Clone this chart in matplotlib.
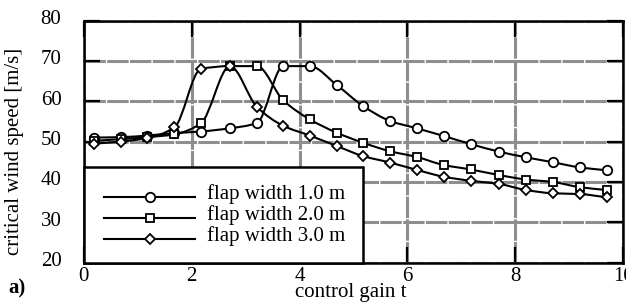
import numpy as np
import matplotlib
matplotlib.use('Agg')
import matplotlib.pyplot as plt
import matplotlib.transforms as mtrans
from matplotlib.path import Path
from matplotlib.patches import PathPatch, Rectangle

# values
gain = [0.19, 0.69, 1.18, 1.68, 2.17, 2.71, 3.21, 3.70, 4.19, 4.69,
        5.18, 5.68, 6.17, 6.67, 7.17, 7.70, 8.20, 8.69, 9.20, 9.69]
speed_w10 = [51.0, 51.1, 51.5, 52.1, 52.5, 53.3, 54.6, 68.7, 68.7, 64.0,
             58.8, 55.1, 53.3, 51.4, 49.4, 47.5, 46.1, 44.9, 43.6, 42.9]
speed_w20 = [50.2, 50.6, 51.1, 51.8, 54.5, 68.7, 68.7, 60.2, 55.5, 52.2,
             49.7, 47.6, 46.2, 44.2, 43.1, 41.7, 40.6, 40.0, 38.7, 38.0]
speed_w30 = [49.5, 50.0, 50.9, 53.5, 68.0, 68.7, 58.6, 53.9, 51.5, 48.9,
             46.4, 44.8, 43.0, 41.3, 40.3, 39.5, 38.0, 37.2, 37.0, 36.2]
labels = ['flap width 1.0 m', 'flap width 2.0 m', 'flap width 3.0 m']
markers = ['o', 's', 'D']
msizes = [6.8, 6.3, 5]

plt.rcParams['font.family'] = ['Liberation Serif', 'DejaVu Serif']


def smooth_path(x, y):
    "monotone cubic through the points, as bezier segments"
    x = np.asarray(x, float)
    y = np.asarray(y, float)
    h = np.diff(x)
    d = np.diff(y) / h
    m = np.zeros_like(y)
    for k in range(1, len(x) - 1):
        if d[k - 1] * d[k] > 0:
            w1 = 2 * h[k] + h[k - 1]
            w2 = h[k] + 2 * h[k - 1]
            m[k] = (w1 + w2) / (w1 / d[k - 1] + w2 / d[k])
    m[0] = d[0]
    m[-1] = d[-1]
    verts = [(x[0], y[0])]
    codes = [Path.MOVETO]
    for k in range(len(x) - 1):
        verts += [(x[k] + h[k] / 3, y[k] + m[k] * h[k] / 3),
                  (x[k + 1] - h[k] / 3, y[k + 1] - m[k + 1] * h[k] / 3),
                  (x[k + 1], y[k + 1])]
        codes += [Path.CURVE4] * 3
    return Path(verts, codes)


fig = plt.figure(figsize=(6.26, 3.02), dpi=100)
ax = fig.add_axes([83.7 / 626, 1 - 262.7 / 302, 539.6 / 626, 242.2 / 302])

for i, (ys, mk, ms) in enumerate(zip([speed_w10, speed_w20, speed_w30], markers, msizes)):
    ax.add_patch(PathPatch(smooth_path(gain, ys), fill=False, edgecolor='black',
                           lw=1.5, zorder=3 + 2 * i))
    ax.plot(gain, ys, ls='none', marker=mk, ms=ms, mfc='white', mec='black',
            mew=1.3, zorder=4 + 2 * i)

ax.set_xlim(0, 10)
ax.set_ylim(20, 80)
ax.set_xticks([0, 2, 4, 6, 8, 10])
ax.set_yticks([20, 30, 40, 50, 60, 70, 80])
ax.grid(True, color='#8e8e8e', lw=2.2, ls=(0, (7, 0.45)))
ax.tick_params(direction='in', length=11.5, width=1.6, top=True, right=True,
               labelsize=15, color='black')
ax.tick_params(axis='x', pad=3)
ax.tick_params(axis='y', pad=16)
for s in ax.spines.values():
    s.set_linewidth(1.8)

# y tick labels sit a little above their ticks
up = mtrans.ScaledTranslation(0, 2.5 / 72, fig.dpi_scale_trans)
for lab in ax.get_yticklabels():
    lab.set_transform(lab.get_transform() + up)

"legend box"
ax.add_patch(Rectangle((0, 0), 0.5176, 0.394, transform=ax.transAxes,
                       facecolor='white', edgecolor='black', lw=1.8,
                       zorder=20, clip_on=False))
for lab, mk, ms, yy in zip(labels, markers, msizes, [0.270, 0.183, 0.097]):
    ax.plot([0.0376, 0.2063], [yy, yy], transform=ax.transAxes, color='black',
            lw=1.5, zorder=21, clip_on=False)
    ax.plot([0.1229], [yy], transform=ax.transAxes, marker=mk, ms=ms,
            mfc='white', mec='black', mew=1.3, zorder=22, clip_on=False)
    ax.text(0.228, yy + 0.012, lab, transform=ax.transAxes, va='center',
            fontsize=15, zorder=23)

fig.text(15 / 626, 1 - 151.5 / 302, 'critical wind speed [m/s]', rotation=90,
         ha='center', va='center', fontsize=15)
fig.text(351 / 626, 1 - 297.5 / 302, 'control gain t', ha='center',
         va='baseline', fontsize=15)
fig.text(8 / 626, 1 - 293 / 302, 'a)', ha='left', va='baseline',
         fontsize=15, fontweight='bold')

fig.savefig('out.png', dpi=100)
